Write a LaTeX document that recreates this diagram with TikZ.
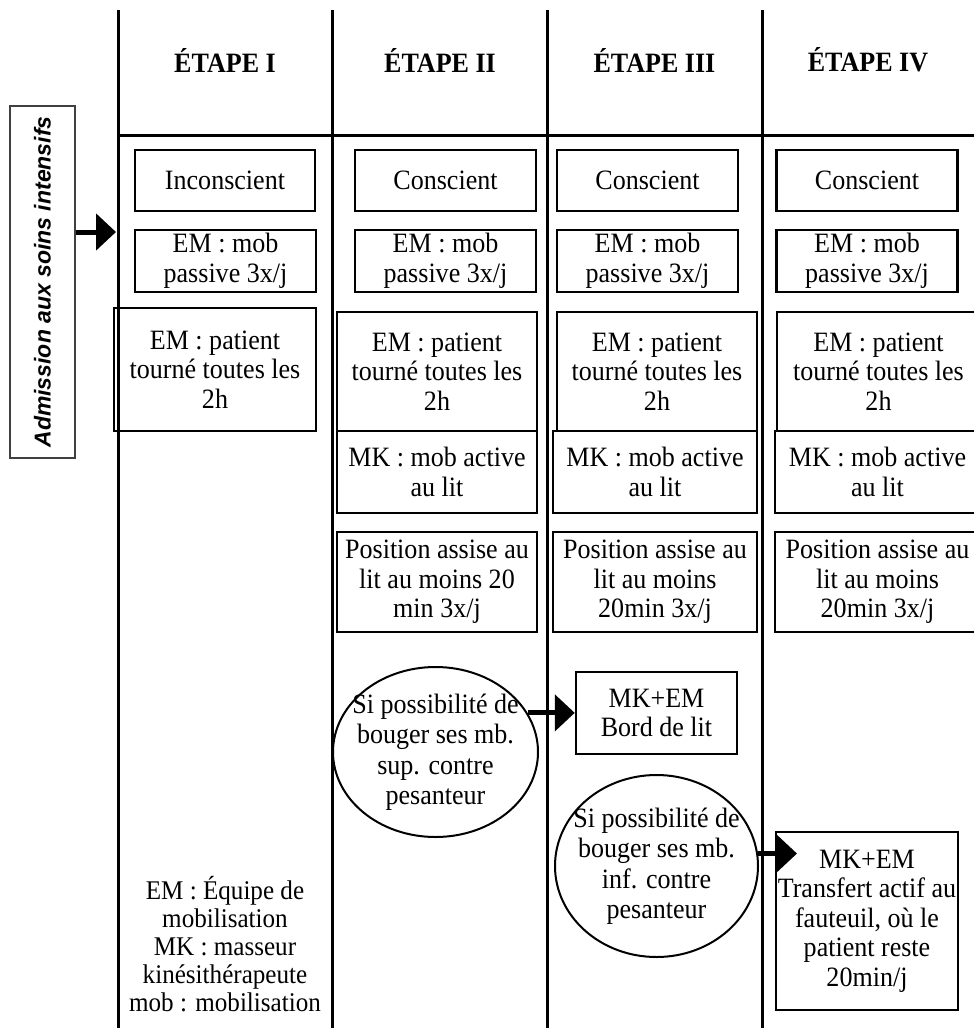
\documentclass[tikz,border=0pt]{standalone}
\usepackage{fontspec}
\setmainfont{Liberation Serif}[FakeStretch=0.93]
\newfontfamily\admfont{Liberation Sans}
\usetikzlibrary{arrows.meta,shapes.geometric}
\begin{document}
\begin{tikzpicture}[x=1pt,y=-1pt,
	box/.style={draw,line width=2.5pt,align=center,inner sep=0pt,font=\fontsize{28}{29.5}\selectfont},
	cir/.style={ellipse,draw,line width=2pt,align=center,inner sep=-12pt,font=\fontsize{28}{30.5}\selectfont},
	head/.style={font=\bfseries\fontsize{28}{30}\selectfont},
	arr/.style={line width=5pt,-{Triangle[length=20pt,width=36pt]}}]
	\useasboundingbox (0,0) rectangle (974,1028);
	\foreach \x in {118,332,547,762}
		\draw[line width=3pt] (\x,10) -- (\x,1028);
	\draw[line width=3pt] (118,135) -- (974,135);
	\foreach \x/\t [count=\i] in {225/I,440/II,654.5/III,868/IV}
		\node[head] at (\x,60) (h\i) {ÉTAPE \t};

	\node[draw=black!75,line width=1.2pt,rotate=90,minimum width=352,minimum height=65,inner sep=0pt,
		font=\admfont\bfseries\itshape\fontsize{23}{26}\selectfont] at (42.5,282) (adm) {Admission aux soins intensifs};
	\coordinate (in1) at (116,232);
	\draw[arr] (adm.south |- in1) -- (in1);

	\node[box,minimum width=180,minimum height=61] at (225,180.5) (con1) {Inconscient};
	\foreach \x [count=\i from 2] in {445.5,647.5,867}
		\node[box,minimum width=181,minimum height=61] at (\x,180.5) (con\i) {Conscient};
	\foreach \x [count=\i] in {225.5,445.5,647.5,867}
		\node[box,minimum width=181,minimum height=62] at (\x,261) (mob\i) {EM : mob\\passive 3x/j};

	\node[box,minimum width=202,minimum height=123] at (215,369.5) (tour1) {EM : patient\\tourné toutes les\\2h};
	\foreach \x/\w [count=\i from 2] in {437/200,657/200,878.5/203}
		\node[box,minimum width=\w,minimum height=119] at (\x,371.5) (tour\i) {EM : patient\\tourné toutes les\\2h};
	\foreach \x/\w [count=\i from 2] in {437/200,655/204,877.5/205}
		\node[box,minimum width=\w,minimum height=82] at (\x,472) (mk\i) {MK : mob active\\au lit};

	\node[box,minimum width=200,minimum height=100] at (437,582) (pos2) {Position assise au\\lit au moins 20\\min 3x/j};
	\node[box,minimum width=204,minimum height=100] at (655,582) (pos3) {Position assise au\\lit au moins\\20min 3x/j};
	\node[box,minimum width=205,minimum height=100] at (877.5,582) (pos4) {Position assise au\\lit au moins\\20min 3x/j};

	\node[cir,minimum width=205,minimum height=170] at (435.5,752) (cir2) {Si possibilité de\\bouger ses mb.\\sup. contre\\pesanteur};
	\node[box,minimum width=161,minimum height=82] at (656.5,713) (bord3) {MK+EM\\Bord de lit};
	\draw[arr] (cir2.23) -- (cir2.23 -| bord3.west);

	\node[cir,minimum width=203,minimum height=182] at (656.5,866) (cir3) {Si possibilité de\\bouger ses mb.\\inf. contre\\pesanteur};
	\node[box,minimum width=182,minimum height=178] at (867,921) (trans4) {MK+EM\\Transfert actif au\\fauteuil, où le\\patient reste\\20min/j};
	\coordinate (in4) at (797,853);
	\draw[arr] (cir3.7) -- (cir3.7 -| in4);

	\node[align=center,font=\fontsize{27}{28}\selectfont] at (225,944) (legend) {EM : Équipe de\\mobilisation\\MK : masseur\\kinésithérapeute\\mob : mobilisation};
\end{tikzpicture}
\end{document}
